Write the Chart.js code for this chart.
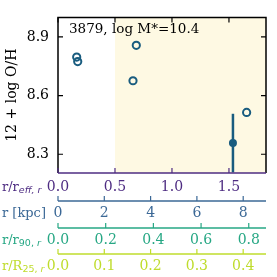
<!DOCTYPE html>
<html><head><meta charset="utf-8">
<script src="https://cdn.jsdelivr.net/npm/chart.js@4/dist/chart.umd.min.js"></script>
<style>html,body{margin:0;padding:0;background:#fff}#c{display:block}</style>
</head><body>
<canvas id="c" width="277" height="277"></canvas>
<script>
const openX = [0.164, 0.173, 0.687, 0.658, 1.655];
const openY = [8.797, 8.774, 8.857, 8.676, 8.514];
const filledX = [1.535];
const filledY = [8.357];
const filledErr = [0.15];
const yTicks = [8.3, 8.6, 8.9];
const xTicks = [0, 0.5, 1.0, 1.5];
const kpcTicks = [0, 2, 4, 6, 8];
const r90Ticks = [0, 0.2, 0.4, 0.6, 0.8];
const r25Ticks = [0, 0.1, 0.2, 0.3, 0.4];
const shadeFrom = 0.5;
const titleText = '3879, log M*=10.4';
const yTitle = '12 + log O/H';

const C_MARK = '#195c7f';
const C_PUR = '#4e2c82';
const C_BLU = '#3b6896';
const C_TEA = '#26a784';
const C_YEL = '#bfdc2c';
const SERIF = '"DejaVu Serif"';

function setTicks(arr) { return s => { s.ticks = arr.map(v => ({value: v})); }; }

function xScale(weight, min, max, ticks, color, height, pad, fmt) {
  return {
    type: 'linear', position: 'bottom', weight: weight, min: min, max: max,
    afterBuildTicks: setTicks(ticks),
    afterFit: s => { s.height = height; },
    grid: {display: false, drawTicks: false}, border: {display: false},
    ticks: {color: color, padding: pad, font: {family: SERIF, size: 14}, maxRotation: 0, autoSkip: false, callback: fmt}
  };
}

const deco = {
  id: 'deco',
  beforeDatasetsDraw(chart) {
    const ctx = chart.ctx, a = chart.chartArea, sx = chart.scales.x, sy = chart.scales.y;
    ctx.save();
    ctx.fillStyle = '#fef9e3';
    const x0 = sx.getPixelForValue(shadeFrom);
    ctx.fillRect(x0, a.top, a.right - x0, a.bottom - a.top);
    ctx.strokeStyle = C_MARK; ctx.lineWidth = 2.5;
    for (let i = 0; i < filledX.length; i++) {
      const px = sx.getPixelForValue(filledX[i]);
      ctx.beginPath();
      ctx.moveTo(px, sy.getPixelForValue(filledY[i] - filledErr[i]));
      ctx.lineTo(px, sy.getPixelForValue(filledY[i] + filledErr[i]));
      ctx.stroke();
    }
    ctx.restore();
  },
  afterDraw(chart) {
    const ctx = chart.ctx, a = chart.chartArea, sx = chart.scales.x, sy = chart.scales.y;
    ctx.save();
    const TL = 5;
    ctx.lineWidth = 1.5; ctx.strokeStyle = '#000';
    ctx.beginPath();
    ctx.moveTo(a.left, a.bottom); ctx.lineTo(a.left, a.top); ctx.lineTo(a.right, a.top); ctx.lineTo(a.right, a.bottom);
    ctx.stroke();
    ctx.lineWidth = 1.2;
    ctx.beginPath();
    yTicks.forEach(v => {
      const py = sy.getPixelForValue(v);
      ctx.moveTo(a.left, py); ctx.lineTo(a.left + TL, py);
      ctx.moveTo(a.right, py); ctx.lineTo(a.right - TL, py);
    });
    xTicks.forEach(v => {
      const px = sx.getPixelForValue(v);
      ctx.moveTo(px, a.top); ctx.lineTo(px, a.top + TL);
    });
    ctx.stroke();
    ctx.strokeStyle = C_PUR; ctx.lineWidth = 1.5;
    ctx.beginPath(); ctx.moveTo(a.left, a.bottom); ctx.lineTo(a.right, a.bottom); ctx.stroke();
    ctx.lineWidth = 1.2; ctx.beginPath();
    xTicks.forEach(v => { const px = sx.getPixelForValue(v); ctx.moveTo(px, a.bottom); ctx.lineTo(px, a.bottom - TL); });
    ctx.stroke();
    [['kpc', kpcTicks, C_BLU], ['r90', r90Ticks, C_TEA], ['r25', r25Ticks, C_YEL]].forEach(([id, tks, col]) => {
      const s = chart.scales[id];
      const y = s.top;
      ctx.strokeStyle = col; ctx.lineWidth = 1.5;
      ctx.beginPath(); ctx.moveTo(a.left, y); ctx.lineTo(a.right, y); ctx.stroke();
      ctx.lineWidth = 1.2; ctx.beginPath();
      tks.forEach(v => { const px = s.getPixelForValue(v); ctx.moveTo(px, y); ctx.lineTo(px, y - TL); });
      ctx.stroke();
    });
    ctx.fillStyle = '#000'; ctx.font = '13.5px ' + SERIF; ctx.textBaseline = 'alphabetic'; ctx.textAlign = 'left';
    ctx.fillText(titleText, a.left + 11, a.top + 16);
    function lab(y, color, parts) {
      let x = 2;
      ctx.fillStyle = color; ctx.textBaseline = 'middle';
      parts.forEach(([t, font, dy]) => {
        ctx.font = font;
        ctx.fillText(t, x, y + dy);
        x += ctx.measureText(t).width;
      });
    }
    const main = '13px ' + SERIF, subI = 'italic 9.5px "DejaVu Sans"', subU = '9.5px "DejaVu Sans"';
    const yc = s => s.top + s.options.ticks.padding + 8.4;
    lab(yc(sx), C_PUR, [['r/r', main, 0], ['eff, r', subI, 3]]);
    lab(yc(chart.scales.kpc), C_BLU, [['r [kpc]', main, 0]]);
    lab(yc(chart.scales.r90), C_TEA, [['r/r', main, 0], ['90, ', subU, 3], ['r', subI, 3]]);
    lab(yc(chart.scales.r25), C_YEL, [['r/R', main, 0], ['25, ', subU, 3], ['r', subI, 3]]);
    ctx.restore();
  }
};

new Chart(document.getElementById('c'), {
  type: 'scatter',
  data: {
    datasets: [
      {data: openX.map((x, i) => ({x: x, y: openY[i]})), pointStyle: 'circle', pointRadius: 3.6, borderWidth: 2,
       borderColor: C_MARK, backgroundColor: 'rgba(0,0,0,0)', xAxisID: 'x', yAxisID: 'y'},
      {data: filledX.map((x, i) => ({x: x, y: filledY[i]})), pointStyle: 'circle', pointRadius: 4, borderWidth: 0,
       borderColor: C_MARK, backgroundColor: C_MARK, xAxisID: 'x', yAxisID: 'y'}
    ]
  },
  options: {
    responsive: false, animation: false, devicePixelRatio: 1,
    layout: {padding: {top: 16, right: 11, left: 0, bottom: 0}},
    plugins: {legend: {display: false}, tooltip: {enabled: false}},
    scales: {
      y: {
        type: 'linear', position: 'left', min: 8.204, max: 9.0,
        afterBuildTicks: setTicks(yTicks),
        afterFit: s => { s.width = 58; },
        grid: {display: false, drawTicks: false}, border: {display: false},
        ticks: {color: '#000', padding: 9, font: {family: SERIF, size: 14}, callback: v => v.toFixed(1)},
        title: {display: true, text: yTitle, color: '#000', font: {family: SERIF, size: 14}, padding: {top: 4, bottom: 0}}
      },
      x: xScale(0, 0, 1.825, xTicks, C_PUR, 28, 6, v => v.toFixed(1)),
      kpc: xScale(1, 0, 8.985, kpcTicks, C_BLU, 27, 4, v => String(v)),
      r90: xScale(2, 0, 0.8723, r90Ticks, C_TEA, 26, 4, v => v.toFixed(1)),
      r25: xScale(3, 0, 0.4493, r25Ticks, C_YEL, 23, 4, v => v.toFixed(1))
    }
  },
  plugins: [deco]
});
</script>
</body></html>
